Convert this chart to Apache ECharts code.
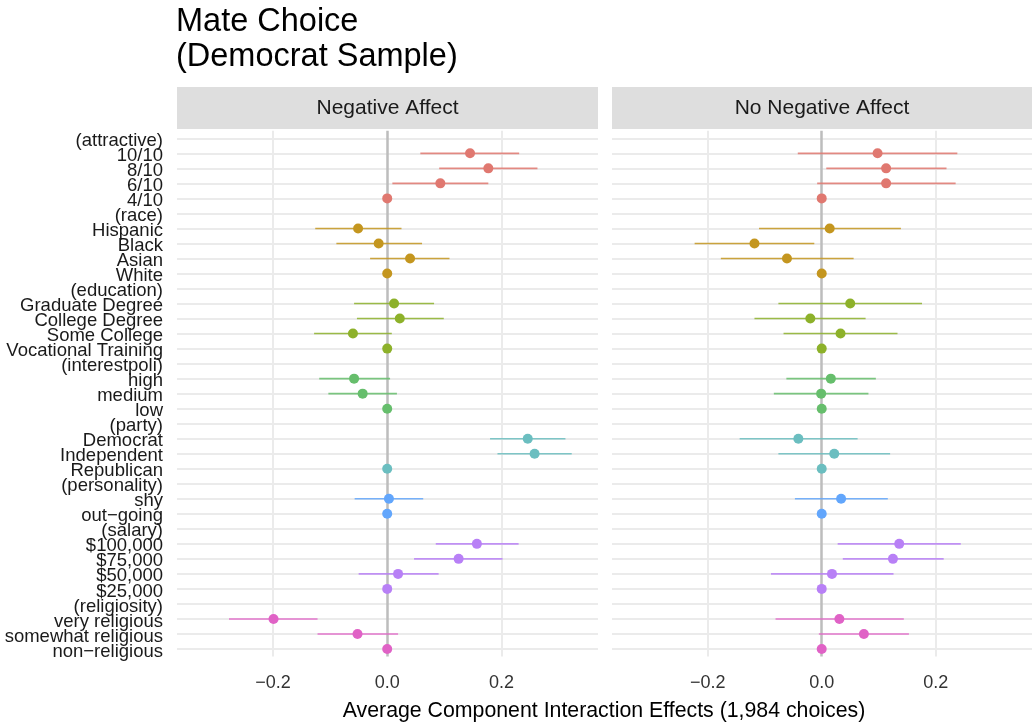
<!DOCTYPE html>
<html>
<head>
<meta charset="utf-8">
<script src="https://cdn.jsdelivr.net/npm/echarts@6/dist/echarts.min.js"></script>
<style>
  html, body { margin: 0; padding: 0; background: #fff; }
  #chart { width: 1032px; height: 727px; }
</style>
</head>
<body>
<div id="chart"></div>
<script>
  // rows, top to bottom; "(...)" rows are attribute headers
  const categories = [
    "(attractive)", "10/10", "8/10", "6/10", "4/10",
    "(race)", "Hispanic", "Black", "Asian", "White",
    "(education)", "Graduate Degree", "College Degree", "Some College", "Vocational Training",
    "(interestpoli)", "high", "medium", "low",
    "(party)", "Democrat", "Independent", "Republican",
    "(personality)", "shy", "out\u2212going",
    "(salary)", "$100,000", "$75,000", "$50,000", "$25,000",
    "(religiosity)", "very religious", "somewhat religious", "non\u2212religious"
  ];
  const panelNames = ["Negative Affect", "No Negative Affect"];

  // Negative Affect
  const estNeg = [null, 0.145, 0.177, 0.093, 0, null, -0.051, -0.015, 0.040, 0, null, 0.012, 0.022, -0.060, 0, null, -0.058, -0.043, 0, null, 0.246, 0.258, 0, null, 0.003, 0, null, 0.157, 0.125, 0.019, 0, null, -0.199, -0.052, 0];
  const loNeg = [null, 0.058, 0.091, 0.009, null, null, -0.126, -0.089, -0.030, null, null, -0.058, -0.053, -0.128, null, null, -0.119, -0.103, null, null, 0.180, 0.193, null, null, -0.057, null, null, 0.085, 0.047, -0.050, null, null, -0.277, -0.122, null];
  const hiNeg = [null, 0.231, 0.263, 0.177, null, null, 0.025, 0.061, 0.109, null, null, 0.082, 0.099, 0.008, null, null, 0.005, 0.017, null, null, 0.312, 0.323, null, null, 0.063, null, null, 0.230, 0.202, 0.090, null, null, -0.122, 0.019, null];

  // No Negative Affect
  const estPos = [null, 0.098, 0.113, 0.113, 0, null, 0.014, -0.118, -0.061, 0, null, 0.050, -0.020, 0.033, 0, null, 0.016, -0.001, 0, null, -0.041, 0.022, 0, null, 0.034, 0, null, 0.136, 0.125, 0.018, 0, null, 0.031, 0.074, 0];
  const loPos = [null, -0.042, 0.008, -0.008, null, null, -0.110, -0.223, -0.177, null, null, -0.076, -0.118, -0.067, null, null, -0.062, -0.084, null, null, -0.144, -0.076, null, null, -0.047, null, null, 0.028, 0.037, -0.089, null, null, -0.081, -0.005, null];
  const hiPos = [null, 0.238, 0.219, 0.235, null, null, 0.139, -0.013, 0.056, null, null, 0.176, 0.077, 0.133, null, null, 0.095, 0.082, null, null, 0.063, 0.120, null, null, 0.116, null, null, 0.244, 0.214, 0.126, null, null, 0.144, 0.153, null];

  const xTicks = [-0.2, 0, 0.2];

  const palette = ["#E07870", "#C4961F", "#8DB12A", "#66BE6C", "#6BBEC0", "#62A6FC", "#B880F6", "#E062C6"];
  const FONT = '"Liberation Sans", Arial, Helvetica, sans-serif';

  // group index of each row (a new group starts at each header row)
  const groupOf = [];
  let g = -1;
  categories.forEach((c) => {
    if (c.charAt(0) === "(") g++;
    groupOf.push(g);
  });

  const panels = [
    { est: estNeg, lo: loNeg, hi: hiNeg, left: 177, width: 421 },
    { est: estPos, lo: loPos, hi: hiPos, left: 612, width: 420 },
  ];

  const gridTop = 130.8;
  const gridHeight = 525.7;

  const grid = [];
  const xAxis = [];
  const yAxis = [];
  const series = [];
  const graphic = [];

  panels.forEach((p, k) => {
    grid.push({ left: p.left, top: gridTop, width: p.width, height: gridHeight });

    xAxis.push({
      type: "value",
      gridIndex: k,
      min: -0.368,
      max: 0.369,
      axisLine: { show: false },
      axisTick: { show: false },
      splitLine: { show: false },
      axisLabel: {
        customValues: xTicks,
        formatter: (v) => (v < 0 ? "\u2212" : "") + Math.abs(v).toFixed(1),
        fontSize: 18,
        fontFamily: FONT,
        color: "#333",
        margin: 18,
      },
    });

    yAxis.push({
      type: "category",
      gridIndex: k,
      data: categories,
      inverse: true,
      axisLine: { show: false },
      axisTick: { show: false },
      splitLine: { show: false },
      axisLabel: {
        show: k === 0,
        interval: 0,
        margin: 14,
        formatter: (v) => "{r|" + v + "}",
        rich: {
          r: {
            fontSize: 18.5,
            fontFamily: FONT,
            color: "#1a1a1a",
            padding: [5, 0, 0, 0],
          },
        },
      },
    });

    // panel grid lines
    const lines = categories.map((c, i) => ({ yAxis: i }));
    lines.push({ xAxis: -0.2 }, { xAxis: 0.2 });
    lines.push({ xAxis: 0, lineStyle: { color: "#BDBDBD", width: 2.5 } });
    series.push({
      type: "scatter",
      xAxisIndex: k,
      yAxisIndex: k,
      data: [],
      silent: true,
      z: 1,
      markLine: {
        z: 1,
        silent: true,
        symbol: ["none", "none"],
        animation: false,
        label: { show: false },
        lineStyle: { color: "#EBEBEB", width: 2, type: "solid" },
        emphasis: { disabled: true },
        data: lines,
      },
    });

    // confidence intervals
    const bars = [];
    p.lo.forEach((lo, i) => {
      if (lo !== null) bars.push([lo, p.hi[i], i, groupOf[i]]);
    });
    series.push({
      type: "custom",
      xAxisIndex: k,
      yAxisIndex: k,
      z: 3,
      silent: true,
      animation: false,
      encode: { x: [0, 1], y: 2 },
      data: bars,
      renderItem: (params, api) => {
        const a = api.coord([api.value(0), api.value(2)]);
        const b = api.coord([api.value(1), api.value(2)]);
        return {
          type: "line",
          shape: { x1: a[0], y1: a[1], x2: b[0], y2: b[1] },
          style: { stroke: palette[api.value(3)], lineWidth: 1.6, opacity: 0.85 },
        };
      },
    });

    // point estimates
    const pts = [];
    p.est.forEach((v, i) => {
      if (v !== null) pts.push([v, i, groupOf[i]]);
    });
    series.push({
      type: "scatter",
      xAxisIndex: k,
      yAxisIndex: k,
      z: 4,
      animation: false,
      symbolSize: 10,
      encode: { x: 0, y: 1 },
      data: pts,
      itemStyle: { color: (d) => palette[d.data[2]], opacity: 1 },
    });

    // facet strip
    graphic.push({
      type: "rect",
      shape: { x: p.left, y: 87, width: p.width, height: 42 },
      style: { fill: "#DEDEDE" },
      silent: true,
    });
    graphic.push({
      type: "text",
      x: p.left + p.width / 2,
      y: 108,
      style: {
        text: panelNames[k],
        fontSize: 21,
        fontFamily: FONT,
        fill: "#1a1a1a",
        align: "center",
        verticalAlign: "middle",
      },
      silent: true,
    });
  });

  const chart = echarts.init(document.getElementById("chart"), null, { renderer: "canvas" });
  chart.setOption({
    animation: false,
    backgroundColor: "#fff",
    title: [
      {
        text: "Mate Choice\n(Democrat Sample)",
        left: 176,
        top: 5,
        padding: 0,
        textStyle: { fontSize: 32.5, fontWeight: "normal", lineHeight: 35, color: "#000", fontFamily: FONT },
      },
      {
        text: "Average Component Interaction Effects (1,984 choices)",
        left: 604,
        top: 701,
        textAlign: "center",
        padding: 0,
        textStyle: { fontSize: 21.3, fontWeight: "normal", color: "#000", fontFamily: FONT },
      },
    ],
    grid,
    xAxis,
    yAxis,
    series,
    graphic,
  });
</script>
</body>
</html>
